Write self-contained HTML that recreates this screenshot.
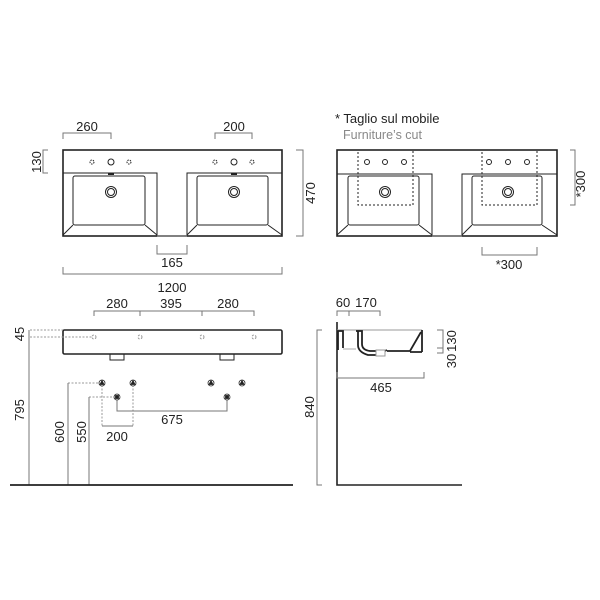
<!DOCTYPE html>
<html><head><style>body{margin:0;background:#fff}svg{display:block}text{font-family:"Liberation Sans",sans-serif;fill:#222}</style></head><body>
<svg width="600" height="600" viewBox="0 0 600 600" xmlns="http://www.w3.org/2000/svg">
<g fill="none" stroke="#222" stroke-width="1">
<!-- TOP VIEW LEFT -->
<rect x="63" y="150" width="219" height="86" stroke-width="1.6"/>
<path d="M63 173 H157 V236 M187 236 V173 H282"/>
<line x1="157" y1="236" x2="187" y2="236" stroke="#888"/>
<rect x="73" y="176" width="72" height="49" rx="2"/>
<rect x="197" y="176" width="71" height="49" rx="2"/>
<path d="M73 225 L63 235 M145 225 L157 235 M197 225 L187 235 M268 225 L282 235"/>
<circle cx="111" cy="192" r="5.5"/><circle cx="111" cy="192" r="3.5"/>
<circle cx="234" cy="192" r="5.5"/><circle cx="234" cy="192" r="3.5"/>
<circle cx="111" cy="162" r="3"/><circle cx="92" cy="162" r="2" stroke-dasharray="1.5 1"/><circle cx="129" cy="162" r="2" stroke-dasharray="1.5 1"/>
<circle cx="234" cy="162" r="3"/><circle cx="215" cy="162" r="2" stroke-dasharray="1.5 1"/><circle cx="252" cy="162" r="2" stroke-dasharray="1.5 1"/>
<line x1="108" y1="174" x2="114" y2="174" stroke-width="2"/><line x1="231" y1="174" x2="237" y2="174" stroke-width="2"/>
<g stroke="#777">
<path d="M63 139 V133 H111 V139"/>
<path d="M215 139 V133 H252 V139"/>
<path d="M48 150 H43 V173 H48"/>
<path d="M296 150 H303 V236 H296"/>
<path d="M157 245 V254 H187 V245"/>
<path d="M63 267 V274 H282 V267"/>
</g>
<!-- TOP VIEW RIGHT -->
<rect x="337" y="150" width="220" height="86" stroke-width="1.6"/>
<path d="M337 174 H432 V236 M462 236 V174 H557"/>
<line x1="432" y1="236" x2="462" y2="236" stroke="#888"/>
<rect x="348" y="176" width="71" height="49" rx="2"/>
<rect x="472" y="176" width="70" height="49" rx="2"/>
<path d="M348 225 L337 235 M419 225 L432 235 M472 225 L462 235 M542 225 L557 235"/>
<circle cx="385" cy="192" r="5.5"/><circle cx="385" cy="192" r="3.5"/>
<circle cx="508" cy="192" r="5.5"/><circle cx="508" cy="192" r="3.5"/>
<circle cx="367" cy="162" r="2.5"/><circle cx="385" cy="162" r="2.5"/><circle cx="404" cy="162" r="2.5"/>
<circle cx="489" cy="162" r="2.5"/><circle cx="508" cy="162" r="2.5"/><circle cx="527" cy="162" r="2.5"/>
<rect x="358" y="150" width="55" height="55" stroke-dasharray="2 2"/>
<rect x="482" y="150" width="55" height="55" stroke-dasharray="2 2"/>
<g stroke="#777">
<path d="M570 150 H575 V205 H570"/>
<path d="M482 247 V255 H537 V247"/>
</g>
<!-- FRONT VIEW -->
<rect x="63" y="330" width="219" height="24" rx="1.5" stroke-width="1.6"/>
<path d="M110 354 V360 H124 V354 M220 354 V360 H234 V354"/>
<g stroke="#999" stroke-dasharray="2 1.5">
<circle cx="94" cy="337" r="2"/><circle cx="140" cy="337" r="2"/><circle cx="202" cy="337" r="2"/><circle cx="254" cy="337" r="2"/>
<path d="M30 330 H63 M30 337 H92"/>
<path d="M68 383 H100 M89 397 H115"/>
<path d="M102 385 V426 M133 385 V426"/>
</g>
<g stroke="#777">
<path d="M94 316 V311 H254 V316 M140 311 V316 M202 311 V316"/>
<path d="M29 330 V485 M68 383 V485 M89 397 V485"/>
<path d="M102 426 H133"/>
<path d="M117 399 V411 H227 V399"/>
</g>
<line x1="10" y1="485" x2="293" y2="485" stroke-width="1.8"/>
<g fill="#222" stroke="#222" stroke-width="0.8">
<circle cx="102" cy="383" r="3" fill="#fff"/><path d="M102 380.5 L104 384.5 H100Z"/>
<circle cx="133" cy="383" r="3" fill="#fff"/><path d="M133 380.5 L135 384.5 H131Z"/>
<circle cx="211" cy="383" r="3" fill="#fff"/><path d="M211 380.5 L213 384.5 H209Z"/>
<circle cx="242" cy="383" r="3" fill="#fff"/><path d="M242 380.5 L244 384.5 H240Z"/>
<circle cx="117" cy="397" r="3" fill="#fff"/><rect x="115.5" y="395.5" width="3" height="3"/>
<circle cx="227" cy="397" r="3" fill="#fff"/><rect x="225.5" y="395.5" width="3" height="3"/>
</g>
<!-- SIDE VIEW -->
<path d="M337 322 V485 H462" stroke-width="1.6"/>
<path d="M337 330 H422" stroke="#999"/>
<path d="M422 330 V352 M421 332 L410 351 H387 M422 352 H410" stroke-width="1.8"/>
<path d="M356 331 H362 V344 Q362 350 370 351 H376 M387 350 L385 351" stroke-width="1.8"/>
<path d="M358 331 V345 Q358 352 368 355 H376" stroke-width="1.8"/>
<rect x="376" y="350" width="9" height="6" stroke="#999"/>
<path d="M338 331 V350 M337 331 H343 V348" stroke-width="1.8"/>
<path d="M343 349 H356" stroke="#aaa"/>
<g stroke="#777">
<path d="M322 330 H317 V485 H322"/>
<path d="M337 372 V378 H424 V372"/>
<path d="M337 316 V311 H380 V316 M349 311 V316"/>
<path d="M437 330 H443 V353 H437 M437 348 H443"/>
</g>
</g>
<g font-size="13" text-anchor="middle">
<text x="87" y="131">260</text>
<text x="234" y="131">200</text>
<text x="172" y="267">165</text>
<text x="172" y="292">1200</text>
<text transform="translate(41,162) rotate(-90)">130</text>
<text transform="translate(315,193) rotate(-90)">470</text>
<text transform="translate(585,184) rotate(-90)">*300</text>
<text x="509" y="269">*300</text>
<text x="117" y="308">280</text>
<text x="171" y="308">395</text>
<text x="228" y="308">280</text>
<text transform="translate(24,334) rotate(-90)">45</text>
<text transform="translate(24,410) rotate(-90)">795</text>
<text transform="translate(64,432) rotate(-90)">600</text>
<text transform="translate(86,432) rotate(-90)">550</text>
<text x="117" y="441">200</text>
<text x="172" y="424">675</text>
<text x="343" y="307">60</text>
<text x="366" y="307">170</text>
<text x="381" y="392">465</text>
<text transform="translate(314,407) rotate(-90)">840</text>
<text transform="translate(456,341) rotate(-90)">130</text>
<text transform="translate(456,361) rotate(-90)">30</text>
</g>
<text x="335" y="123" font-size="13">* Taglio sul mobile</text>
<text x="343" y="139" font-size="12.5" style="fill:#888">Furniture’s cut</text>
</svg>
</body></html>
